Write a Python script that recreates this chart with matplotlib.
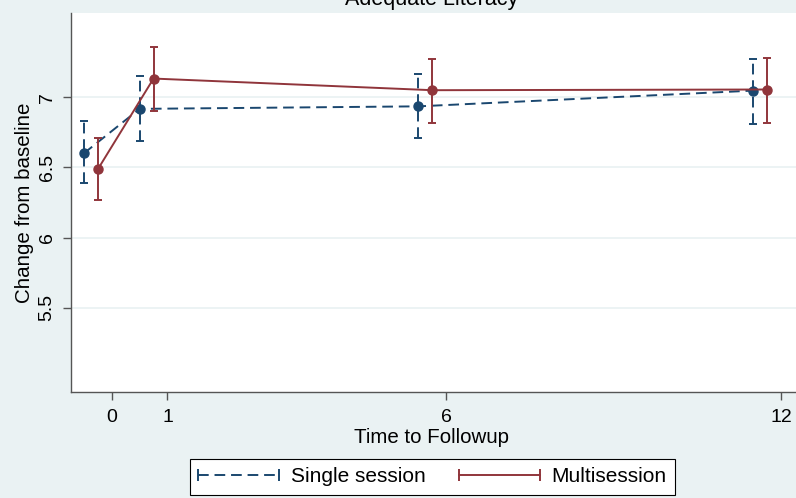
import matplotlib
matplotlib.use("Agg")
import matplotlib.pyplot as plt
from matplotlib.lines import Line2D
from matplotlib.legend_handler import HandlerLine2D
import numpy as np

plt.rcParams['font.family'] = ['Liberation Sans', 'DejaVu Sans']

# data
times = [0, 1, 6, 12]
single_x = [-0.5, 0.5, 5.5, 11.5]
single_y = [6.60, 6.917, 6.935, 7.047]
single_lo = [6.386, 6.689, 6.708, 6.81]
single_hi = [6.83, 7.149, 7.164, 7.275]

multi_x = [-0.25, 0.75, 5.75, 11.75]
multi_y = [6.486, 7.133, 7.05, 7.055]
multi_lo = [6.267, 6.903, 6.817, 6.817]
multi_hi = [6.71, 7.356, 7.273, 7.28]

yticks = [5.5, 6, 6.5, 7]

navy = "#1a476f"
maroon = "#90353b"
bg = "#eaf2f3"

fig = plt.figure(figsize=(7.96, 4.98), dpi=100)
fig.patch.set_facecolor(bg)
ax = fig.add_axes([71/796, 1-392/498, (796-71)/796, (392-13)/498])
ax.set_facecolor("white")

dash = (0, (5.5, 3))

# single session
yerr = [np.array(single_y) - np.array(single_lo), np.array(single_hi) - np.array(single_y)]
eb = ax.errorbar(single_x, single_y, yerr=yerr, fmt='none', ecolor=navy,
                 elinewidth=1.4, capsize=3, capthick=1.4, zorder=3)
eb[2][0].set_linestyle(dash)
ax.plot(single_x, single_y, color=navy, lw=1.4, ls=dash, marker='o',
        markersize=6.5, zorder=4)

# multisession
yerr = [np.array(multi_y) - np.array(multi_lo), np.array(multi_hi) - np.array(multi_y)]
ax.errorbar(multi_x, multi_y, yerr=yerr, fmt='none', ecolor=maroon,
            elinewidth=1.4, capsize=3, capthick=1.4, zorder=5)
ax.plot(multi_x, multi_y, color=maroon, lw=1.4, marker='o',
        markersize=6.5, zorder=6)

ax.set_xlim(-0.73, 12.27)
ax.set_ylim(4.9, 7.6)
ax.set_xticks(times)
ax.set_yticks(yticks)
ax.set_yticklabels([("%g" % v) for v in yticks], rotation=90, va='center')
ax.grid(axis='y', color=bg, lw=1.3, zorder=0)
ax.set_axisbelow(True)

for s in ['top', 'right']:
    ax.spines[s].set_visible(False)
for s in ['left', 'bottom']:
    ax.spines[s].set_color("#555555")
    ax.spines[s].set_linewidth(1.0)
ax.tick_params(axis='both', colors="#555555", length=6, width=1.0,
               labelcolor='black', labelsize=14)
ax.tick_params(axis='x', pad=6)
ax.tick_params(axis='y', pad=5)

ax.set_xlabel("Time to Followup", fontsize=14.8)
ax.xaxis.set_label_coords((432-71)/725, -(437-392)/379)
ax.xaxis.label.set_va('center')
ax.set_ylabel("Change from baseline", fontsize=14.8)
ax.yaxis.set_label_coords(-(71-25)/725, 0.5)
ax.yaxis.label.set_va('center')

fig.text(432/796, 1-5/498, "Adequate Literacy", ha='center', va='baseline',
         fontsize=15.5)

handles = [
    Line2D([], [], color=navy, lw=1.4, ls=dash, marker='|', markersize=8,
           markeredgewidth=1.4),
    Line2D([], [], color=maroon, lw=1.4, marker='|', markersize=8,
           markeredgewidth=1.4),
]
hmap = {h: HandlerLine2D(numpoints=2, marker_pad=0) for h in handles}
leg = fig.legend(handles, ["Single session", "Multisession"], ncol=2,
                 loc='upper left', bbox_to_anchor=(190/796, 1-459/498),
                 bbox_transform=fig.transFigure, fontsize=15,
                 handler_map=hmap,
                 handlelength=3.85, handletextpad=0.58, columnspacing=1.63,
                 borderpad=0.4, borderaxespad=0, fancybox=False,
                 framealpha=1, edgecolor='black')
leg.get_frame().set_linewidth(0.8)

fig.savefig("out.png", dpi=100, facecolor=bg)
